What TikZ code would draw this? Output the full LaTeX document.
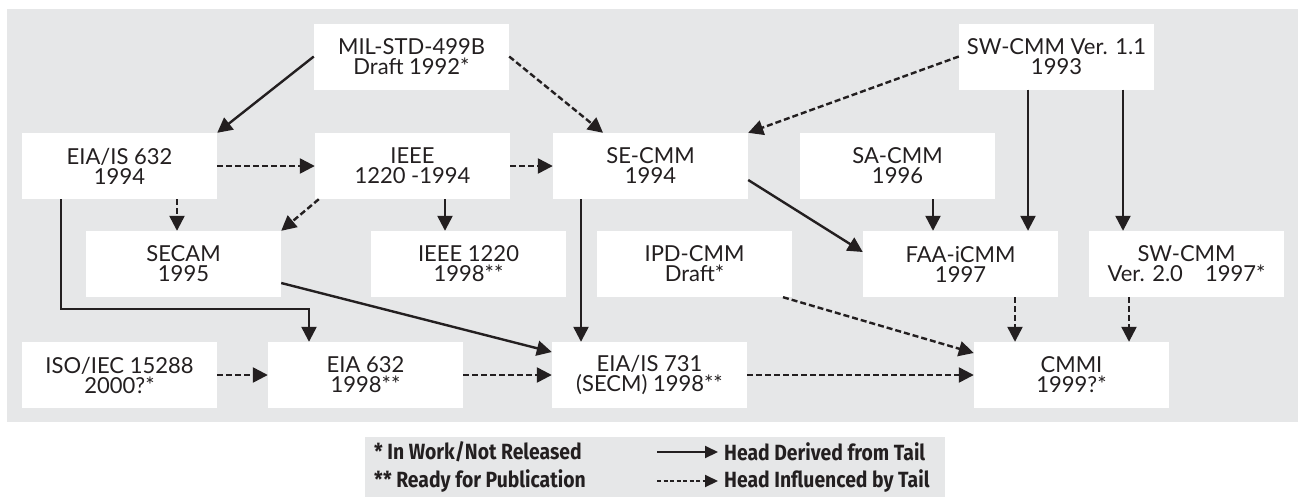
\documentclass[tikz,border=0pt]{standalone}
\usepackage{fontspec}
\setmainfont{Lato}
\newfontfamily\keyfont[FakeStretch=0.88]{Fira Sans}
\usetikzlibrary{arrows.meta}

\definecolor{panel}{HTML}{E6E7E8}
\definecolor{ink}{HTML}{231F20}

\tikzset{
  stage/.style={fill=white, minimum width=195pt, minimum height=66pt,
    inner sep=0pt, align=center, text=ink,
    font=\fontsize{22}{20}\selectfont},
  derived/.style={draw=ink, line width=2.4pt,
    -{Triangle[length=15pt,width=15pt]}},
  influenced/.style={derived, dash pattern=on 6pt off 3pt},
  keytext/.style={anchor=west, inner sep=0pt, text=ink,
    font=\keyfont\bfseries\fontsize{22}{22}\selectfont},
  keyarrow/.style={draw=ink, line width=2pt,
    -{Triangle[length=13pt,width=12pt]}},
}

\begin{document}
\begin{tikzpicture}[x=1pt,y=-1pt]
  \fill[panel] (7,9) rectangle (1298,422);
  \fill[panel] (365,437) rectangle (945,497);
  \useasboundingbox (0,0) rectangle (1298,501);

  % top row
  \node[stage] (mil) at (411.5,56.5) {MIL-STD-499B\\Draft 1992*};
  \node[stage] (swone) at (1056.5,56.5) {SW-CMM Ver. 1.1\\1993};

  % second row
  \node[stage] (eiais) at (119.5,166) {EIA/IS 632\\1994};
  \node[stage] (ieee) at (412.5,166) {IEEE\\1220 -1994};
  \node[stage] (secmm) at (650.5,166) {SE-CMM\\1994};
  \node[stage] (sacmm) at (897.5,166) {SA-CMM\\1996};

  % third row
  \node[stage] (secam) at (183.5,264) {SECAM\\1995};
  \node[stage] (ieeenew) at (468.5,264) {IEEE 1220\\1998**};
  \node[stage] (ipd) at (694.5,264) {IPD-CMM\\Draft*};
  \node[stage] (faa) at (960.5,264) {FAA-iCMM\\1997};
  \node[stage] (swtwo) at (1186.5,264) {SW-CMM\\Ver. 2.0\quad 1997*};

  % bottom row
  \node[stage] (iso) at (119.5,375) {ISO/IEC 15288\\2000?*};
  \node[stage] (eia) at (365.5,375) {EIA 632\\1998**};
  \node[stage] (eiaseven) at (649.5,375) {EIA/IS 731\\(SECM) 1998**};
  \node[stage] (cmmi) at (1071.5,375) {CMMI\\1999?*};

  % derived from
  \draw[derived] (mil.west) -- (eiais.north east);
  \draw[derived] ([xshift=32.5pt]ieee.south) -- ([xshift=32.5pt]ieee.south |- ieeenew.north);
  \draw[derived] ([xshift=-69.5pt]secmm.south) -- ([xshift=-69.5pt]secmm.south |- eiaseven.north);
  \draw[derived] ([yshift=-14pt]secmm.east) -- ([yshift=12pt]faa.west);
  \draw[derived] ([xshift=35.5pt]sacmm.south) -- ([xshift=35.5pt]sacmm.south |- faa.north);
  \draw[derived] ([xshift=-28.5pt]swone.south) -- ([xshift=-28.5pt]swone.south |- faa.north);
  \draw[derived] ([xshift=66.5pt]swone.south) -- ([xshift=66.5pt]swone.south |- swtwo.north);
  \draw[derived] ([xshift=-58.5pt]eiais.south) -- ++(0,110) -| ([xshift=-56.5pt]eia.north);
  \draw[derived] ([yshift=-19pt]secam.east) -- ([yshift=23pt]eiaseven.west);

  % influenced by
  \draw[influenced] (mil.east) -- ([xshift=-47.5pt]secmm.north);
  \draw[influenced] (swone.west) -- (secmm.north east);
  \draw[influenced] (eiais) -- (ieee);
  \draw[influenced] (ieee) -- (secmm);
  \draw[influenced] ([xshift=-6.5pt]secam.north |- eiais.south) -- ([xshift=-6.5pt]secam.north);
  \draw[influenced] ([xshift=4pt]ieee.south west) -- (secam.north east);
  \draw[influenced] ([xshift=88.5pt]ipd.south) -- ([yshift=22pt]cmmi.west);
  \draw[influenced] ([xshift=54.5pt]faa.south) -- ([xshift=54.5pt]faa.south |- cmmi.north);
  \draw[influenced] ([xshift=-57.5pt]swtwo.south) -- ([xshift=-57.5pt]swtwo.south |- cmmi.north);
  \draw[influenced] (iso) -- (eia);
  \draw[influenced] (eia) -- (eiaseven);
  \draw[influenced] (eiaseven) -- (cmmi);

  % key
  \node[keytext] (inwork) at (374,452) {* In Work/Not Released};
  \node[keytext] (ready) at (374,481) {** Ready for Publication};
  \node[keytext] (head) at (724,452) {Head Derived from Tail};
  \node[keytext] (tail) at (724,481) {Head Influenced by Tail};
  \coordinate (solidend) at (657,452);
  \coordinate (dashend) at (657,481);
  \draw[keyarrow] (solidend) -- ([xshift=-6pt]head.west);
  \draw[keyarrow, dash pattern=on 4pt off 2.5pt] (dashend) -- ([xshift=-6pt]tail.west);
\end{tikzpicture}
\end{document}
